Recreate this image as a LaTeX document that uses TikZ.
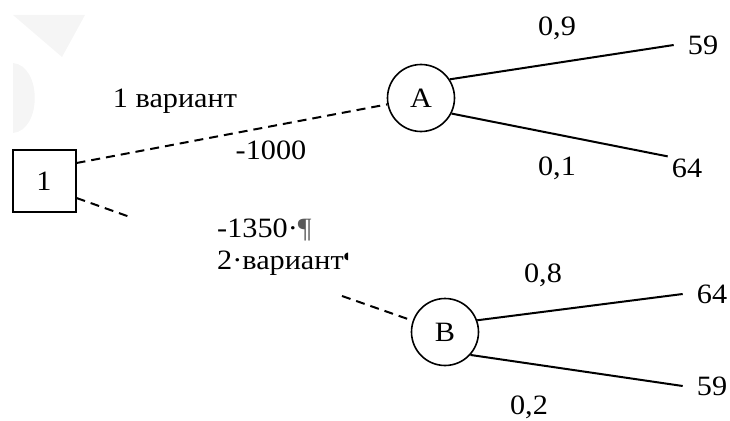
\documentclass[tikz,border=0pt]{standalone}
\usepackage{fontspec}
\setmainfont{Liberation Serif}[FakeStretch=1.08]
\newfontfamily\markfont{DejaVu Sans}
\usetikzlibrary{positioning}

\begin{document}
\begin{tikzpicture}[x=1pt, y=-1pt, font=\fontsize{28}{32}\selectfont,
		decision/.style = {draw, rectangle, minimum width=63pt, minimum height=62pt, line width=2pt},
		chance/.style = {draw, circle, minimum size=67pt, inner sep=0pt, line width=1.6pt},
		branch/.style = {line width=2pt},
		choice/.style = {line width=2pt, dash pattern=on 9pt off 6pt},
		leaf/.style = {inner xsep=14pt, inner ysep=2pt},
		prob/.style = {inner sep=1pt}]
	\useasboundingbox (0,0) rectangle (730,420);
	% faint watermark in the corner
	\fill[gray!8] (13,15) -- (85,15) -- (62,57) -- cycle;
	\fill[gray!8] (13,63) .. controls (42,66) and (42,130) .. (13,133) -- cycle;
	% decision and chance nodes
	\node[decision] (d1) at (44,181) {1};
	\node[chance] (A) at (421,98) {A};
	\node[chance] (B) at (445,332) {B};
	% outcomes
	\node[leaf] (a59) at (703,45) {59};
	\node[leaf] (a64) at (687,168) {64};
	\node[leaf] (b64) at (712,294) {64};
	\node[leaf] (b59) at (712,386) {59};
	% labels of the choices
	\node (v1) at (175,101) {1 вариант};
	\node (c1) at (271,150) {-1000};
	\node[align=left, anchor=north west, inner sep=0pt] (v2) at (217,219)
		{-1350·{\color{gray!70!black}¶}\\
		2·вариант{\markfont\fontsize{10}{10}\selectfont\raisebox{10pt}{◖}}};
	\coordinate (gapL) at (130,217);
	\coordinate (gapR) at (342,296);
	% probabilities
	\node[prob] (p09) at (557,28) {0,9};
	\node[prob] (p01) at (557,168) {0,1};
	\node[prob] (p08) at (543,275) {0,8};
	\node[prob] (p02) at (529,407) {0,2};
	\draw[choice] ([yshift=18pt]d1.east) -- (A);
	\draw[choice] ([yshift=-17pt]d1.east) -- (gapL);
	\draw[choice] (gapR) -- (B);
	\draw[branch] (A.33) -- (a59.west);
	\draw[branch] (A.-27) -- ([xshift=10pt]a64.north west);
	\draw[branch] (B.20) -- (b64.west);
	\draw[branch] (B.-42) -- (b59.west);
\end{tikzpicture}
\end{document}
